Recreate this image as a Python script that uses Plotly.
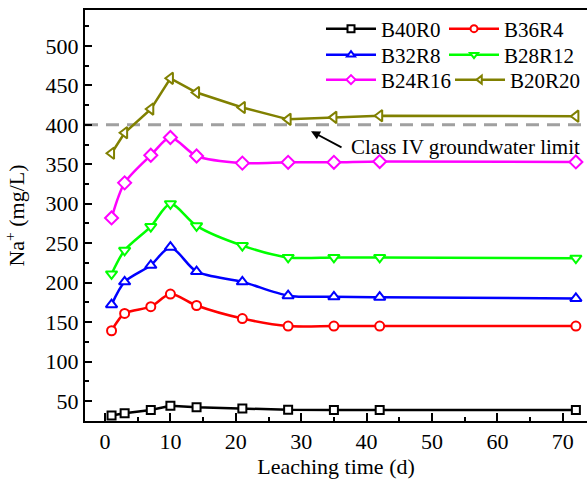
import plotly.graph_objects as go

days = [1, 3, 7, 10, 14, 21, 28, 35, 42, 72]
series_names = ["B40R0", "B36R4", "B32R8", "B28R12", "B24R16", "B20R20"]
B40R0 = [31.5, 34.5, 38.5, 44, 42, 40.5, 38.8, 38.5, 38.5, 38.5]
B36R4 = [139, 161, 169.5, 185.5, 171, 154.5, 145, 145, 145, 145]
B32R8 = [172, 201, 222, 245, 214, 201, 183.5, 182, 181.5, 180]
B28R12 = [211, 241, 271, 300, 272, 247, 232, 232, 232, 231]
B24R16 = [282, 326.5, 361.5, 384, 360.5, 351.5, 352.5, 352.5, 353.5, 353]
B20R20 = [364, 390, 420, 459, 441, 422, 407, 409.5, 411.5, 411]
limit_value = 400
limit_label = "Class IV groundwater limit"

values = [B40R0, B36R4, B32R8, B28R12, B24R16, B20R20]
colors = ["#000000", "#ff0000", "#0000ff", "#00ff00", "#ff00ff", "#808000"]
symbols = ["square", "circle", "triangle-up", "triangle-down", "diamond", "triangle-left"]
msizes = [8, 9, 10, 10, 10, 10]
shapes_ = ["linear", "spline", "spline", "spline", "spline", "linear"]

FONT = "Liberation Serif"

fig = go.Figure()
for name, vals, col, sym, ms, shp in zip(series_names, values, colors, symbols, msizes, shapes_):
    fig.add_trace(go.Scatter(
        x=days, y=vals, name=name, mode="lines+markers", showlegend=False,
        line=dict(color=col, width=2.5, shape=shp, smoothing=0.8),
        marker=dict(symbol=sym, size=ms, color="white", line=dict(color=col, width=2)),
    ))

# legend: 2 columns x 3 rows, one legend box per entry (pixel positions)
legend_px = [(321, 29), (444, 29), (321, 55), (444, 55), (321, 80), (450, 80)]
layout_legends = {}
for i, (name, col, sym) in enumerate(zip(series_names, colors, symbols)):
    lg = "legend" if i == 0 else f"legend{i + 1}"
    fig.add_trace(go.Scatter(
        x=[None], y=[None], name=name, mode="lines+markers", showlegend=True, legend=lg,
        line=dict(color=col, width=2.5),
        marker=dict(symbol=sym, size=7, color="white", line=dict(color=col, width=2)),
    ))
    px_x, px_y = legend_px[i]
    layout_legends[lg] = dict(
        orientation="v", x=(px_x - 85) / 502, xanchor="left",
        y=1 - (px_y - 10) / 411, yanchor="middle",
        font=dict(family=FONT, size=21), itemwidth=50,
        bgcolor="rgba(0,0,0,0)", borderwidth=0,
    )

fig.add_shape(type="line", xref="paper", x0=0, x1=1, yref="y", y0=limit_value, y1=limit_value,
              line=dict(color="#a0a0a0", width=3, dash="13px,8px"), layer="below")

fig.add_annotation(x=31.5, y=392, xref="x", yref="y", ax=32, ay=17, axref="pixel", ayref="pixel",
                   showarrow=True, arrowhead=2, arrowsize=1, arrowwidth=1.8, arrowcolor="#000000",
                   text="")
fig.add_annotation(x=37.3, y=372, xref="x", yref="y", text=limit_label, showarrow=False,
                   xanchor="left", yanchor="middle", font=dict(family=FONT, size=21, color="#000000"))

fig.update_layout(
    width=587, height=486,
    margin=dict(l=85, r=0, t=10, b=65),
    paper_bgcolor="white", plot_bgcolor="white",
    font=dict(family=FONT, color="#000000"),
    showlegend=True,
    xaxis=dict(range=[-3.06, 73.7], tickvals=[0, 10, 20, 30, 40, 50, 60, 70],
               ticks="inside", ticklen=8, tickwidth=1.5, tickcolor="#000000",
               minor=dict(dtick=5, tick0=0, ticks="inside", ticklen=4, tickwidth=1.5, tickcolor="#000000"),
               showline=True, linecolor="#000000", linewidth=2, mirror=True,
               showgrid=False, zeroline=False,
               tickfont=dict(family=FONT, size=22),
               title=dict(text="Leaching time (d)", font=dict(family=FONT, size=22), standoff=5)),
    yaxis=dict(range=[24.6, 545.6], tickvals=[50, 100, 150, 200, 250, 300, 350, 400, 450, 500],
               ticks="inside", ticklen=7, tickwidth=1.5, tickcolor="#000000",
               minor=dict(dtick=25, tick0=0, ticks="inside", ticklen=4, tickwidth=1.5, tickcolor="#000000"),
               showline=True, linecolor="#000000", linewidth=2, mirror=False,
               showgrid=False, zeroline=False,
               tickfont=dict(family=FONT, size=22),
               title=dict(text="Na<sup>+</sup> (mg/L)", font=dict(family=FONT, size=22), standoff=15)),
    **layout_legends,
)

fig.write_html("out.html")
